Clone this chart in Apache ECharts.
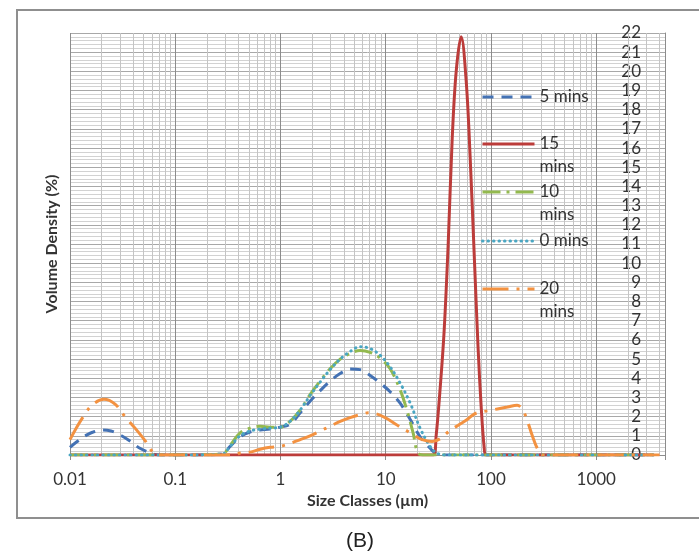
<!DOCTYPE html>
<html>
<head>
<meta charset="utf-8">
<script src="https://cdn.jsdelivr.net/npm/echarts@6/dist/echarts.min.js"></script>
<style>
html, body { margin: 0; padding: 0; background: #fff; }
#main { width: 699px; height: 556px; }
</style>
</head>
<body>
<div id="main"></div>
<script>
var chart = echarts.init(document.getElementById('main'));

// size classes (um) and volume density (%)
var size5 = [0.01, 0.0117, 0.0145, 0.0166, 0.0201, 0.0245, 0.0286, 0.0356, 0.0462, 0.0575,
  0.0643, 0.075, 0.15, 0.279, 0.332, 0.413, 0.514, 0.640, 0.797, 0.99,
  1.23, 1.54, 1.91, 2.38, 2.96, 3.69, 4.59, 5.71, 7.11, 8.85,
  11.0, 13.7, 17.1, 21.2, 26.4, 30.6, 37, 100, 1000, 3500];
var vol5 = [0.4, 0.7, 1.05, 1.2, 1.3, 1.25, 1.1, 0.8, 0.35, 0.12,
  0.03, 0, 0, 0.05, 0.45, 0.95, 1.2, 1.3, 1.35, 1.45,
  1.6, 2.2, 2.8, 3.35, 3.85, 4.25, 4.48, 4.45, 4.15, 3.75,
  3.3, 2.7, 1.85, 0.95, 0.35, 0.05, 0, 0, 0, 0];

var size15 = [0.01, 0.25, 28.2, 30.1, 32.9, 35.9, 39.2, 42.8, 46.7, 52.1,
  58.1, 63.4, 69.2, 75.5, 80.7, 86.1, 90.0, 300, 3500];
var vol15 = [0, 0, 0, 1.0, 3.5, 6.5, 11, 16.5, 20.0, 21.8,
  19.5, 15.5, 10.5, 5.5, 2.5, 0.4, 0, 0, 0];

var size10 = [0.01, 0.1, 0.279, 0.332, 0.413, 0.514, 0.640, 0.797, 0.99, 1.23,
  1.54, 1.91, 2.38, 2.96, 3.69, 4.59, 5.71, 7.11, 8.85, 11.0,
  13.7, 15.96, 18.2, 20.3, 23.7, 100, 3500];
var vol10 = [0, 0, 0.05, 0.5, 1.15, 1.4, 1.5, 1.45, 1.45, 1.75,
  2.35, 3.15, 3.85, 4.5, 5.0, 5.3, 5.45, 5.35, 5.05, 4.5,
  3.4, 2.3, 1.15, 0.1, 0, 0, 0];

var size0 = [0.01, 0.1, 0.279, 0.332, 0.413, 0.514, 0.640, 0.797, 0.99, 1.23,
  1.54, 1.91, 2.38, 2.96, 3.69, 4.59, 5.71, 7.11, 8.85, 11.0,
  13.7, 17.1, 21.2, 26.4, 30.6, 37, 100, 3500];
var vol0 = [0, 0, 0.05, 0.45, 1.0, 1.25, 1.35, 1.4, 1.45, 1.75,
  2.35, 3.1, 3.8, 4.45, 5.0, 5.4, 5.65, 5.55, 5.2, 4.6,
  3.75, 2.7, 1.4, 0.45, 0.1, 0, 0, 0];

var size20 = [0.01, 0.0112, 0.0130, 0.0162, 0.0210, 0.0268, 0.0333, 0.0415, 0.0516, 0.0602,
  0.0687, 0.2, 0.37, 0.413, 0.514, 0.640, 0.797, 0.99, 1.23, 1.54,
  1.91, 2.38, 2.96, 3.69, 4.59, 5.71, 6.81, 8.11, 9.87, 11.75,
  13.7, 15.96, 18.2, 22.2, 27.6, 32.9, 39.2, 48.8, 59.4, 67.7,
  73.9, 92.0, 115, 143, 177, 198, 221, 247, 275, 307,
  1000, 4000];
var vol20 = [0.8, 1.3, 1.9, 2.6, 2.9, 2.65, 2.0, 1.4, 0.75, 0.2,
  0, 0, 0, 0.1, 0.15, 0.3, 0.4, 0.45, 0.6, 0.8,
  1.0, 1.25, 1.5, 1.75, 1.95, 2.1, 2.2, 2.15, 1.95, 1.7,
  1.45, 1.25, 1.05, 0.8, 0.7, 0.85, 1.2, 1.55, 1.85, 2.1,
  2.2, 2.3, 2.4, 2.5, 2.6, 2.4, 1.8, 1.0, 0.35, 0,
  0, 0];

var seriesNames = ['5 mins', '15 mins', '10 mins', '0 mins', '20 mins'];
var legendText = ['5 mins', '\n15\nmins', '\n10\nmins', '0 mins', '\n20\nmins'];
var legendTop = [97, 144, 192, 241, 289];
var xTicks = [0.01, 0.1, 1, 10, 100, 1000];

var colors = ['#4472b4', '#bc3c3a', '#93b94f', '#4aa6c2', '#f39241'];
var dashes = [[11, 8], 'solid', [18, 6, 3, 6], [0.5, 5], [26, 8, 3, 8]];

function pairs(xs, ys) {
  return xs.map(function (x, i) { return [x, ys[i]]; });
}
var allData = [pairs(size5, vol5), pairs(size15, vol15), pairs(size10, vol10),
  pairs(size0, vol0), pairs(size20, vol20)];

// log paper grid lines
var gridLines = [];
for (var d = 0.01; d < 5000; d *= 10) {
  for (var m = 1; m <= 9; m++) {
    var v = +(d * m).toPrecision(3);
    if (v > 4500) break;
    gridLines.push({
      xAxis: v,
      lineStyle: {color: m == 1 ? '#8c8c8c' : '#c4c4c4', width: 1, type: 'solid'}
    });
  }
}

var font = 'Lato, "Open Sans", sans-serif';

var series = seriesNames.map(function (name, i) {
  return {
    name: name,
    type: 'line',
    data: allData[i],
    smooth: 0.35,
    symbol: 'none',
    z: 3,
    lineStyle: {
      color: colors[i],
      width: 3,
      type: dashes[i],
      cap: i == 3 ? 'round' : 'butt'
    },
    itemStyle: {color: colors[i]}
  };
});
series.unshift({
  name: 'grid',
  type: 'line',
  data: [],
  silent: true,
  markLine: {
    silent: true,
    symbol: 'none',
    z: 1,
    animation: false,
    label: {show: false},
    data: gridLines
  }
});

var legends = seriesNames.map(function (name, i) {
  var lines = legendText[i].split('\n').length;
  return {
    data: [name],
    orient: 'vertical',
    left: 481,
    top: legendTop[i] - lines * 23 / 2,
    padding: 0,
    itemWidth: 52,
    itemHeight: 14,
    itemStyle: {opacity: 0},
    lineStyle: {width: 3},
    formatter: function () { return legendText[i]; },
    textStyle: {fontSize: 17, lineHeight: 23, color: '#333', fontFamily: font},
    selectedMode: false
  };
});

option = {
  animation: false,
  color: colors,
  grid: {left: 70, right: 34, top: 33, bottom: 101},
  legend: legends,
  xAxis: {
    type: 'log',
    logBase: 10,
    min: 0.01,
    max: 4500,
    name: 'Size Classes (µm)',
    nameLocation: 'middle',
    nameGap: 38,
    nameTextStyle: {fontSize: 16, fontWeight: 'bold', color: '#333', fontFamily: font},
    axisLine: {show: true, onZero: false, lineStyle: {color: '#8c8c8c'}},
    axisTick: {show: true, length: 5, lineStyle: {color: '#8c8c8c'}},
    splitLine: {show: false},
    axisLabel: {
      fontSize: 17,
      color: '#333',
      fontFamily: font,
      margin: 16,
      formatter: function (val) {
        for (var k = 0; k < xTicks.length; k++) {
          if (Math.abs(val - xTicks[k]) < xTicks[k] * 1e-6) return String(xTicks[k]);
        }
        return '';
      }
    }
  },
  yAxis: [{
    type: 'value',
    position: 'right',
    min: 0,
    max: 22,
    interval: 1,
    axisLine: {show: true, lineStyle: {color: '#8c8c8c'}},
    axisTick: {show: false},
    axisLabel: {inside: true, margin: 24, fontSize: 17, color: '#333', fontFamily: font},
    splitLine: {show: true, lineStyle: {color: '#a8a8a8', width: 1}},
    minorTick: {show: false, splitNumber: 5},
    minorSplitLine: {show: true, lineStyle: {color: '#d2d2d2', width: 1}}
  }, {
    type: 'value',
    position: 'left',
    min: 0,
    max: 22,
    name: 'Volume Density (%)',
    nameLocation: 'middle',
    nameGap: 10,
    nameTextStyle: {fontSize: 16, fontWeight: 'bold', color: '#333', fontFamily: font},
    axisLine: {show: false},
    axisTick: {show: false},
    axisLabel: {show: false},
    splitLine: {show: false}
  }],
  graphic: [{
    type: 'rect',
    shape: {x: 17, y: 10, width: 700, height: 508},
    style: {fill: 'none', stroke: '#8f8f8f', lineWidth: 2},
    silent: true
  }, {
    type: 'text',
    x: 360,
    y: 541,
    style: {
      text: '(B)', fontSize: 21, fontFamily: '"Liberation Sans", Arial, sans-serif',
      fill: '#222', align: 'center', verticalAlign: 'middle'
    }
  }],
  series: series
};

chart.setOption(option);
</script>
</body>
</html>
